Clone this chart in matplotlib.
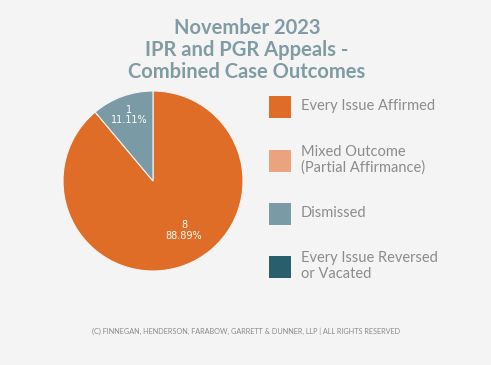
import numpy as np
import matplotlib
matplotlib.use('Agg')
import matplotlib.pyplot as plt
from matplotlib.patches import Rectangle

categories = ['Every Issue Affirmed', 'Mixed Outcome\n(Partial Affirmance)',
              'Dismissed', 'Every Issue Reversed\nor Vacated']
counts = [8, 0, 1, 0]
colors = ['#DF6D27', '#EBA27F', '#7A9AA5', '#295F6D']
title = 'November 2023\nIPR and PGR Appeals -\nCombined Case Outcomes'
footer = '(C) FINNEGAN, HENDERSON, FARABOW, GARRETT & DUNNER, LLP | ALL RIGHTS RESERVED'

plt.rcParams['font.family'] = ['Lato', 'DejaVu Sans']

W, H = 491, 365
bg = '#F4F4F4'
fig = plt.figure(figsize=(W/100, H/100), dpi=100, facecolor=bg)

# pie: centre (153,181), radius 90 px
cx, cy, r = 153, 181, 90
ax = fig.add_axes([(cx-r)/W, 1-(cy+r)/H, 2*r/W, 2*r/H])
ax.set_facecolor(bg)
total = sum(counts)
vals = [c for c in counts if c > 0]
cols = [colors[i] for i, c in enumerate(counts) if c > 0]
wedges, _ = ax.pie(vals, colors=cols, startangle=90, counterclock=False,
                   wedgeprops=dict(edgecolor=bg, linewidth=0.8))
for w, v in zip(wedges, vals):
    big = v / total > 0.5
    ang = np.deg2rad((w.theta1 + w.theta2) / 2 + (12 if big else 0))
    d = 0.65 if big else 0.78
    ax.text(d*np.cos(ang), d*np.sin(ang), f'{v}\n{v/total*100:.2f}%',
            ha='center', va='center', color='white', fontsize=7,
            family=['DejaVu Sans'], linespacing=1.1)
ax.set_xlim(-1, 1)
ax.set_ylim(-1, 1)
ax.set_aspect('equal')

fig.text(247/W, 1-50/H, title, ha='center', va='center', fontsize=14.5,
         fontweight='bold', color='#7F9BA4', linespacing=1.1)

# legend
ys = [107, 161, 214, 267]
for y, lab, c in zip(ys, categories, colors):
    fig.patches.append(Rectangle((269/W, 1-(y+11)/H), 22/W, 22/H,
                                 transform=fig.transFigure, facecolor=c, edgecolor='none'))
    fig.text(301/W, 1-(y-1)/H, lab, ha='left', va='center',
             fontsize=10.5, color='#8C8C8C', linespacing=1.1)

fig.text(246/W, 1-331/H, footer, ha='center', va='center', fontsize=5.2,
         color='#8A8A8A')

fig.savefig('out.png', dpi=100, facecolor=bg)
